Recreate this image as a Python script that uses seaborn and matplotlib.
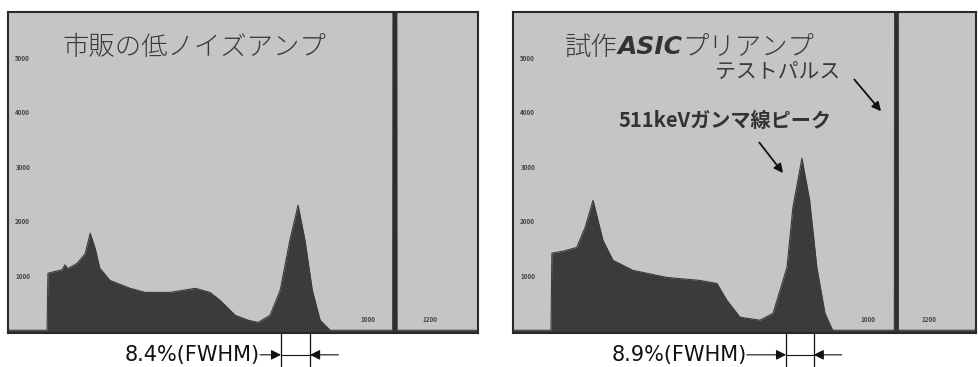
import numpy as np
import pandas as pd
import matplotlib
matplotlib.use('Agg')
import matplotlib.pyplot as plt
import seaborn as sns

sns.set_style('white')
plt.rcParams['font.family'] = ['Noto Sans CJK JP', 'DejaVu Sans']

# spectra (channel, counts)
left_ch = [0, 85, 87, 100, 118, 124, 130, 150, 168, 179, 190, 200, 222, 266, 299, 353, 408, 440,
           462, 495, 523, 545, 571, 593, 614, 632, 647, 663, 680, 702, 1024]
left_counts = [0, 0, 209, 215, 222, 240, 226, 245, 280, 356, 300, 228, 183, 154, 139, 139, 154, 139,
               110, 55, 37, 29, 55, 147, 330, 459, 330, 147, 37, 0, 0]

right_ch = [0, 84, 86, 110, 141, 160, 177, 190, 199, 221, 265, 340, 413, 451, 473, 502,
            546, 575, 606, 619, 639, 656, 672, 690, 707, 1024]
right_counts = [0, 0, 283, 290, 304, 380, 477, 390, 330, 257, 220, 194, 183, 172, 110, 48,
                37, 62, 231, 451, 631, 477, 231, 62, 0, 0]

# test pulse (off scale)
left_pulse_ch = [838, 840, 846, 848]
right_pulse_ch = [843, 845, 851, 853]
pulse_counts = [0, 5000, 5000, 0]

ytick_vals = [200, 400, 600, 800, 1000]
ytick_labels = ['1000', '2000', '3000', '4000', '5000']
xtick_vals = [785, 920]
xtick_labels = ['1000', '1200']

titles = ['市販の低ノイズアンプ', None]
fwhm_text = ['8.4%(FWHM)', '8.9%(FWHM)']
fwhm_edges = [(595, 658), (604, 665)]
fwhm_text_end = [549, 517]
fwhm_arrow_start = [720, 727]

bg = '#c5c5c5'
fill = '#3b3b3b'

fig = plt.figure(figsize=(9.79, 3.67), dpi=100)
ax1 = fig.add_axes([8 / 979, 34 / 367, 470 / 979, 321 / 367])
ax2 = fig.add_axes([513 / 979, 34 / 367, 463 / 979, 321 / 367])

panels = [
    (ax1, left_ch, left_counts, left_pulse_ch),
    (ax2, right_ch, right_counts, right_pulse_ch),
]

for i, (ax, ch, cnt, pch) in enumerate(panels):
    ax.set_facecolor(bg)
    df = pd.DataFrame({'ch': ch, 'counts': cnt})
    sns.lineplot(data=df, x='ch', y='counts', ax=ax, color=fill, lw=0.8)
    ax.fill_between(df['ch'], df['counts'], -10, color=fill, lw=0)
    pdf = pd.DataFrame({'ch': pch, 'counts': pulse_counts})
    sns.lineplot(data=pdf, x='ch', y='counts', ax=ax, color='#2e2e2e', lw=0.5)
    ax.fill_between(pdf['ch'], pdf['counts'], -10, color='#2e2e2e', lw=0)
    ax.set_xlim(0, 1024)
    ax.set_ylim(-10, 1168)
    ax.set_xlabel('')
    ax.set_ylabel('')
    ax.set_yticks(ytick_vals)
    ax.set_yticklabels(ytick_labels)
    ax.set_xticks(xtick_vals)
    ax.set_xticklabels(xtick_labels)
    ax.tick_params(axis='y', length=0, pad=-16, labelsize=4.5, labelcolor='#444')
    ax.tick_params(axis='x', length=0, pad=-12, labelsize=4.5, labelcolor='#444')
    for lab in ax.get_yticklabels():
        lab.set_fontweight('bold')
    for lab in ax.get_xticklabels():
        lab.set_fontweight('bold')
    for s in ax.spines.values():
        s.set_color('#2a2a2a')
        s.set_linewidth(1.5)

    # FWHM marker below the axes
    a, b = fwhm_edges[i]
    ax.text(fwhm_text_end[i], -0.068, fwhm_text[i], transform=ax.get_xaxis_transform(),
            ha='right', va='center', fontsize=15, family='DejaVu Sans', color='#111',
            clip_on=False)
    for e in (a, b):
        ax.plot([e, e], [0, -0.106], transform=ax.get_xaxis_transform(),
                color='#111', lw=0.9, clip_on=False)
    ax.plot([a, b], [-0.068, -0.068], transform=ax.get_xaxis_transform(),
            color='#111', lw=0.8, clip_on=False)
    ax.annotate('', xy=(a, -0.068), xytext=(fwhm_text_end[i], -0.068),
                xycoords=ax.get_xaxis_transform(), textcoords=ax.get_xaxis_transform(),
                arrowprops=dict(arrowstyle='-|>', color='#111', lw=0.8,
                                mutation_scale=15, shrinkA=0, shrinkB=0))
    ax.annotate('', xy=(b, -0.068), xytext=(fwhm_arrow_start[i], -0.068),
                xycoords=ax.get_xaxis_transform(), textcoords=ax.get_xaxis_transform(),
                arrowprops=dict(arrowstyle='-|>', color='#111', lw=0.8,
                                mutation_scale=15, shrinkA=0, shrinkB=0))

# titles
ax1.text(0.117, 0.89, titles[0], transform=ax1.transAxes, ha='left', va='center',
         fontsize=19, color='#3a3a3a', fontweight='light')
t1 = ax2.text(0.112, 0.89, '試作', transform=ax2.transAxes, ha='left', va='center',
              fontsize=19, color='#3a3a3a', fontweight='light')
t2 = ax2.annotate('ASIC', xy=(1, 0.5), xycoords=t1, ha='left', va='center',
                  fontsize=18, color='#333', fontweight='bold', style='italic',
                  family='DejaVu Sans')
ax2.annotate('プリアンプ', xy=(1, 0.5), xycoords=t2, ha='left', va='center',
             fontsize=19, color='#3a3a3a', fontweight='light')

# labels on the right panel
ax2.text(586, 943, 'テストパルス', ha='center', va='center', fontsize=15, color='#3a3a3a')
ax2.annotate('', xy=(818, 796), xytext=(751, 928),
             arrowprops=dict(arrowstyle='-|>', color='#111', lw=1.3, mutation_scale=13))
ax2.text(469, 771, '511keVガンマ線ピーク', ha='center', va='center', fontsize=14.5,
         color='#333', fontweight='bold')
ax2.annotate('', xy=(601, 569), xytext=(541, 697),
             arrowprops=dict(arrowstyle='-|>', color='#111', lw=1.3, mutation_scale=13))

fig.savefig('out.png', dpi=100, facecolor='white')
